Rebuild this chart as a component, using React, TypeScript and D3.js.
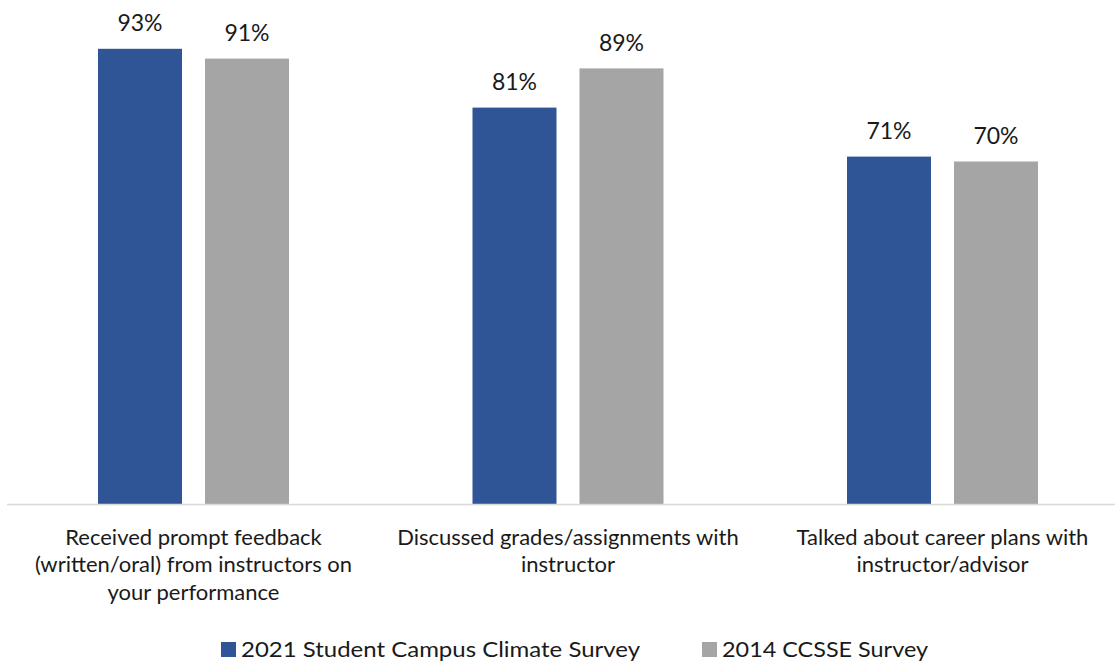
import React, { useEffect, useRef } from "react";
import * as d3 from "d3";

const categories = [
  "Received prompt feedback (written/oral) from instructors on your performance",
  "Discussed grades/assignments with instructor",
  "Talked about career plans with instructor/advisor",
];
const categoryLines = [
  ["Received prompt feedback", "(written/oral) from instructors on", "your performance"],
  ["Discussed grades/assignments with", "instructor"],
  ["Talked about career plans with", "instructor/advisor"],
];
const seriesNames = ["2021 Student Campus Climate Survey", "2014 CCSSE Survey"];
const values2021 = [93, 81, 71];
const values2014 = [91, 89, 70];
const colors = ["#2F5597", "#A5A5A5"];

const W = 1115;
const H = 661;
const FONT = "Lato, 'Open Sans', sans-serif";
const legendWidths = [399, 206];
const legendX = [221, 702];

export default function App() {
  const ref = useRef<SVGSVGElement | null>(null);

  useEffect(() => {
    const svg = d3.select(ref.current);
    svg.selectAll("*").remove();

    const y = d3.scaleLinear().domain([0, 100]).range([504.5, 14.5]);
    const x0 = d3.scaleBand<string>().domain(categories).range([6.25, 1129.75]).padding(0);
    const x1 = d3
      .scaleBand<string>()
      .domain(seriesNames)
      .range([91.75, 282.75])
      .paddingInner(0.215)
      .paddingOuter(0);

    const seriesValues = [values2021, values2014];

    const g = svg.append("g");

    seriesNames.forEach((s, si) => {
      const vals = seriesValues[si];
      g.selectAll(null)
        .data(categories)
        .enter()
        .append("rect")
        .attr("x", (c) => (x0(c) as number) + (x1(s) as number))
        .attr("width", x1.bandwidth())
        .attr("y", (_c, i) => y(vals[i]))
        .attr("height", (_c, i) => y(0) - y(vals[i]))
        .attr("fill", colors[si]);

      g.selectAll(null)
        .data(categories)
        .enter()
        .append("text")
        .attr("x", (c) => (x0(c) as number) + (x1(s) as number) + x1.bandwidth() / 2)
        .attr("y", (_c, i) => y(vals[i]) - 17.5)
        .attr("text-anchor", "middle")
        .attr("font-family", FONT)
        .attr("font-size", 23)
        .attr("fill", "#1a1a1a")
        .text((_c, i) => `${vals[i]}%`);
    });

    // axis line
    g.append("line")
      .attr("x1", 7)
      .attr("x2", W)
      .attr("y1", y(0))
      .attr("y2", y(0))
      .attr("stroke", "#d9d9d9")
      .attr("stroke-width", 1.5);

    // category labels
    categories.forEach((c, ci) => {
      const cx = (x0(c) as number) + x0.bandwidth() / 2;
      const t = g
        .append("text")
        .attr("text-anchor", "middle")
        .attr("font-family", FONT)
        .attr("font-size", 22)
        .attr("fill", "#1a1a1a");
      categoryLines[ci].forEach((line, li) => {
        t.append("tspan")
          .attr("x", cx)
          .attr("y", 537 + li * 27.5)
          .attr("dy", "0.35em")
          .text(line);
      });
    });

    // legend
    seriesNames.forEach((s, si) => {
      g.append("rect")
        .attr("x", legendX[si])
        .attr("y", 642)
        .attr("width", 15)
        .attr("height", 15)
        .attr("fill", colors[si]);
      g.append("text")
        .attr("x", legendX[si] + 20)
        .attr("y", 657)
        .attr("font-family", FONT)
        .attr("font-size", 22)
        .attr("textLength", legendWidths[si])
        .attr("lengthAdjust", "spacingAndGlyphs")
        .attr("fill", "#1a1a1a")
        .text(s);
    });
  }, []);

  return (
    <svg
      ref={ref}
      width={W}
      height={H}
      style={{ position: "absolute", left: 0, top: 0, background: "#fff" }}
    />
  );
}
